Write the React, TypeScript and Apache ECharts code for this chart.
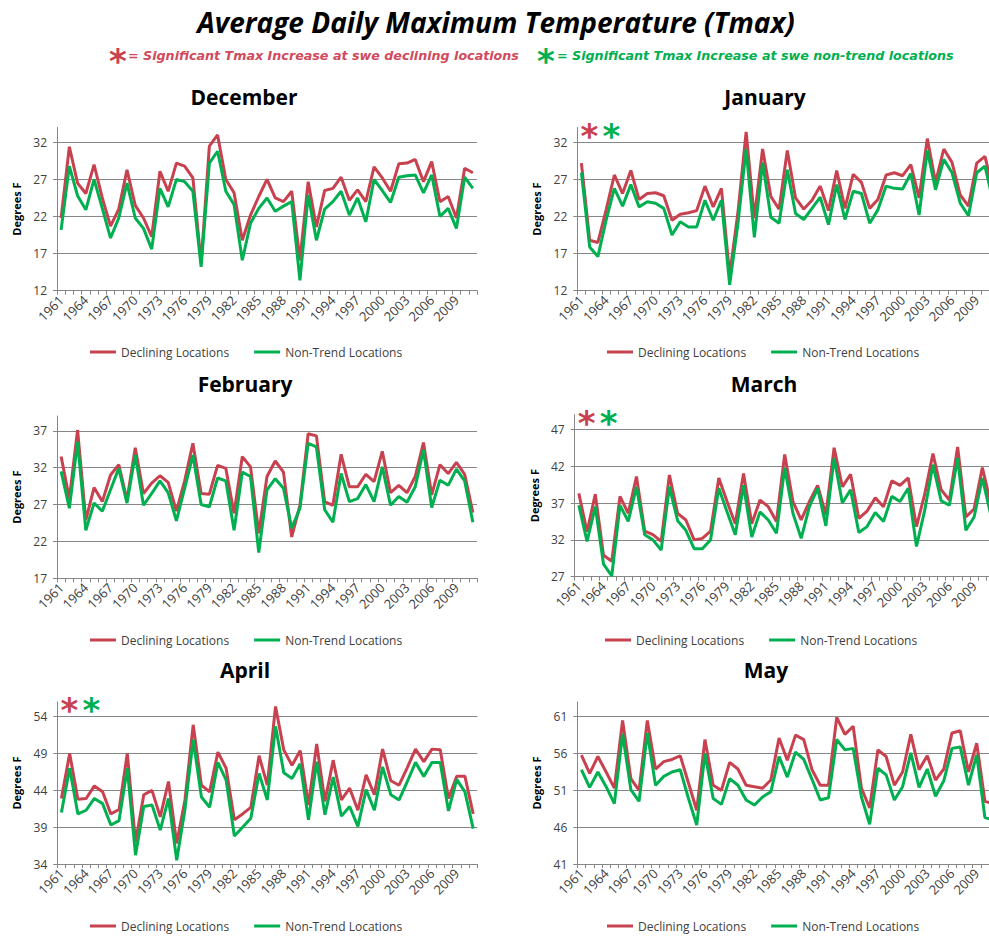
import React, { useEffect, useRef } from 'react';
import * as echarts from 'echarts';

const years = ['1961','1962','1963','1964','1965','1966','1967','1968','1969','1970','1971','1972','1973','1974','1975','1976','1977','1978','1979','1980','1981','1982','1983','1984','1985','1986','1987','1988','1989','1990','1991','1992','1993','1994','1995','1996','1997','1998','1999','2000','2001','2002','2003','2004','2005','2006','2007','2008','2009','2010','2011'];

const seriesNames = ['Declining Locations', 'Non-Trend Locations'];

const decDeclining = [21.8,31.4,26.5,25.1,29.0,24.5,20.7,23.0,28.3,23.5, 21.8,19.3,28.1,25.4,29.2,28.8,27.2,15.7,31.5,33.0, 27.0,25.2,18.8,22.2,24.7,27.0,24.5,24.0,25.4,16.1, 26.7,20.6,25.5,25.8,27.3,24.2,25.6,24.0,28.7,27.2, 25.4,29.1,29.2,29.7,26.7,29.4,24.0,24.7,21.8,28.5,27.9];
const decNonTrend = [20.2,28.8,24.8,22.9,27.0,23.1,19.1,21.8,26.5,21.8, 20.4,17.6,25.8,23.3,27.0,26.7,25.4,15.2,29.2,30.8, 25.4,23.6,16.1,21.1,23.1,24.5,22.7,23.4,24.0,13.4, 24.9,18.8,23.0,24.0,25.4,22.2,24.5,21.3,27.0,25.5, 23.9,27.3,27.5,27.6,25.2,27.6,22.0,23.1,20.4,27.3,25.8];

const janDeclining = [29.2,18.8,18.5,22.9,27.6,25.1,28.2,24.3,25.1,25.2, 24.8,21.5,22.3,22.5,22.8,26.1,23.3,25.8,14.1,22.5, 33.4,21.8,31.1,24.7,23.0,30.9,24.5,23.0,24.2,26.1, 22.8,28.2,23.1,27.7,26.6,23.1,24.3,27.6,27.9,27.5, 29.0,24.5,32.5,26.6,31.1,29.3,24.9,23.4,29.2,30.1,25.5];
const janNonTrend = [27.9,17.9,16.6,21.5,25.8,23.4,26.3,23.3,24.0,23.8, 23.1,19.5,21.3,20.6,20.6,24.2,21.5,24.2,12.8,21.0, 31.1,19.2,29.3,21.9,21.1,28.3,22.4,21.6,23.1,24.6, 20.9,26.3,21.6,25.4,25.1,21.1,22.9,26.1,25.8,25.7, 27.8,22.2,30.9,25.6,29.7,27.9,23.8,22.1,27.9,28.8,24.0];

const febDeclining = [33.5,27.8,37.1,24.9,29.3,27.4,31.0,32.4,27.6,34.7, 28.5,29.9,30.9,30.0,26.1,30.2,35.3,28.5,28.4,32.3, 31.9,25.8,33.5,32.1,23.1,30.8,32.9,31.4,22.6,26.9, 36.6,36.3,27.4,26.9,33.8,29.4,29.4,31.1,30.1,34.2, 28.6,29.6,28.6,30.8,35.4,28.3,32.4,31.2,32.7,31.1,25.9];
const febNonTrend = [31.5,26.5,35.5,23.5,27.2,26.1,29.0,31.9,27.2,33.7, 26.9,28.5,30.2,28.6,24.8,29.2,33.7,27.0,26.7,30.6, 30.2,23.5,31.4,30.8,20.5,29.0,30.5,29.2,23.8,26.5, 35.3,34.8,26.3,24.6,31.2,27.4,27.8,29.7,27.4,32.1, 26.9,28.1,27.3,29.4,34.4,26.6,30.3,29.6,31.8,30.2,24.6];

const marDeclining = [38.3,33.1,38.2,29.9,29.1,37.9,35.6,40.6,33.2,32.7, 31.8,40.8,35.6,34.7,32.0,32.2,33.2,40.4,37.2,34.2, 41.0,34.2,37.4,36.5,34.5,43.6,37.2,34.7,37.2,39.4, 35.4,44.5,39.2,40.9,34.9,35.9,37.7,36.5,40.0,39.4, 40.4,33.8,38.2,43.7,38.8,37.4,44.6,35.1,36.2,41.8,37.0];
const marNonTrend = [36.7,31.8,36.5,28.7,27.1,36.7,34.5,39.2,32.7,32.0, 30.6,39.2,34.6,33.3,30.8,30.8,32.0,39.0,35.8,32.7, 39.4,32.4,35.8,34.7,32.9,41.8,35.6,32.2,36.5,39.0, 33.9,43.1,37.0,38.8,33.0,33.8,35.7,34.5,37.9,37.2, 39.0,31.1,36.0,42.2,37.3,36.7,43.1,33.3,35.1,40.4,35.5];

const aprDeclining = [42.9,49.0,42.8,42.9,44.6,43.8,40.8,41.4,49.0,37.0, 43.4,44.0,40.4,45.2,36.8,42.7,52.9,44.7,43.8,49.2, 47.0,40.0,40.8,41.7,48.7,44.7,55.4,49.5,47.4,49.4, 42.0,50.3,42.5,48.1,42.7,44.3,41.3,46.1,43.4,49.6, 45.3,44.7,47.1,49.6,47.9,49.6,49.5,42.9,45.9,45.9,40.8];
const aprNonTrend = [41.0,47.0,40.8,41.3,42.9,42.2,39.3,39.9,47.0,35.2, 41.8,42.0,38.6,42.9,34.5,41.4,50.9,43.1,41.7,47.8, 45.4,37.8,39.0,40.2,46.3,42.7,52.7,46.4,45.6,47.6, 40.0,47.9,40.7,45.8,40.5,41.8,39.1,44.1,41.3,47.2, 43.4,42.7,45.2,47.8,45.9,47.8,47.8,41.2,45.5,43.8,38.8];

const mayDeclining = [55.8,53.3,55.6,53.5,51.3,60.5,52.6,51.0,60.5,53.9, 54.9,55.2,55.7,52.0,48.3,57.9,51.7,51.0,54.8,53.9, 51.7,51.5,51.3,52.4,58.1,55.1,58.5,57.9,53.8,51.7, 51.7,60.9,58.6,59.7,51.3,48.6,56.5,55.6,51.7,53.5, 58.6,53.8,55.7,52.4,53.9,58.8,59.1,53.5,57.4,49.5,49.2];
const mayNonTrend = [53.8,51.4,53.5,51.5,49.2,58.7,51.1,49.5,58.8,51.7, 52.9,53.5,53.8,49.9,46.3,56.0,49.9,49.1,52.6,51.7, 49.7,49.0,50.1,50.8,55.6,52.8,56.2,55.2,52.5,49.7, 50.0,57.9,56.5,56.7,50.1,46.4,54.0,53.1,49.7,51.5, 56.1,51.4,53.9,50.2,52.3,56.7,56.9,51.7,55.8,47.3,47.0];

const monthNames = ['December', 'January', 'February', 'March', 'April', 'May'];
const decliningSets = [decDeclining, janDeclining, febDeclining, marDeclining, aprDeclining, mayDeclining];
const nonTrendSets = [decNonTrend, janNonTrend, febNonTrend, marNonTrend, aprNonTrend, mayNonTrend];
const yMins = [12, 12, 17, 27, 34, 41];
const yTickLabels = [
  [12, 17, 22, 27, 32],
  [12, 17, 22, 27, 32],
  [17, 22, 27, 32, 37],
  [27, 32, 37, 42, 47],
  [34, 39, 44, 49, 54],
  [41, 46, 51, 56, 61],
];
const significant = [false, true, false, true, true, false];

const mainTitle = 'Average Daily Maximum Temperature (Tmax)';
const noteDeclining = '= Significant Tmax Increase at swe declining locations';
const noteNonTrend = '= Significant Tmax Increase at swe non-trend locations';

// layout (pixels)
const layout = [
  { left: 57, top: 127.5, height: 163.2, titleX: 244, titleY: 97, legendX: 90, legendY: 346 },
  { left: 577.3, top: 127.5, height: 163.2, titleX: 765, titleY: 97, legendX: 607, legendY: 346 },
  { left: 57, top: 416, height: 162.3, titleX: 245, titleY: 384, legendX: 90, legendY: 634 },
  { left: 574.7, top: 414.6, height: 162.1, titleX: 764, titleY: 384, legendX: 605, legendY: 634 },
  { left: 57.3, top: 702, height: 162, titleX: 245, titleY: 670, legendX: 90, legendY: 920 },
  { left: 577.3, top: 702, height: 162, titleX: 766, titleY: 670, legendX: 607, legendY: 920 },
];
const PLOT_W = 420;
const RED = '#C8414F';
const GREEN = '#00B050';
const AXIS = '#868686';
const FONT = "'Open Sans', 'Noto Sans', sans-serif";
const NOTE_FONT = "'DejaVu Sans', Verdana, sans-serif";

export default function App() {
  const ref = useRef<HTMLDivElement>(null);
  useEffect(() => {
    if (!ref.current) return;
    const chart = echarts.init(ref.current, undefined, { renderer: 'svg' });
    const grids: any[] = [];
    const xAxes: any[] = [];
    const yAxes: any[] = [];
    const series: any[] = [];
    const legends: any[] = [];
    const graphics: any[] = [];

    monthNames.forEach((m, k) => {
      const L = layout[k];
      grids.push({ left: L.left, top: L.top, width: PLOT_W, height: L.height, containLabel: false, outerBoundsMode: 'none' });
      xAxes.push({
        type: 'category', gridIndex: k, data: years, boundaryGap: true,
        axisLine: { show: true, lineStyle: { color: AXIS, width: 1 } },
        axisTick: { show: true, interval: 0, length: 4, lineStyle: { color: AXIS } },
        axisLabel: { interval: 2, rotate: 45, fontSize: 13, color: '#404040', fontFamily: FONT, margin: 7 },
        splitLine: { show: false },
      });
      yAxes.push({
        type: 'value', gridIndex: k, min: yMins[k], max: yMins[k] + 22, interval: 5,
        name: 'Degrees F', nameLocation: 'middle', nameGap: 35,
        nameTextStyle: { fontWeight: 'bold', fontSize: 11, color: '#000', fontFamily: FONT },
        axisLine: { show: true, lineStyle: { color: AXIS, width: 1 } },
        axisTick: { show: true, length: 4, lineStyle: { color: AXIS }, customValues: yTickLabels[k] },
        axisLabel: { fontSize: 12, color: '#404040', fontFamily: FONT, margin: 10, customValues: yTickLabels[k] },
        splitLine: { show: true, lineStyle: { color: AXIS, width: 1 } },
      });
      series.push({
        type: 'line', name: seriesNames[0], xAxisIndex: k, yAxisIndex: k, data: decliningSets[k],
        symbol: 'none', lineStyle: { width: 3, color: RED }, itemStyle: { color: RED },
      });
      series.push({
        type: 'line', name: seriesNames[1], xAxisIndex: k, yAxisIndex: k, data: nonTrendSets[k],
        symbol: 'none', lineStyle: { width: 3, color: GREEN }, itemStyle: { color: GREEN },
      });
      legends.push({
        left: L.legendX, top: L.legendY, padding: 0, orient: 'horizontal', icon: 'rect', itemWidth: 26, itemHeight: 3,
        itemGap: 25, selectedMode: false, data: seriesNames,
        textStyle: { fontSize: 12, color: '#404040', fontFamily: FONT },
      });
      graphics.push({
        type: 'text', x: L.titleX, y: L.titleY,
        style: { text: m, font: `bold 21px ${FONT}`, fill: '#000', align: 'center', verticalAlign: 'middle' },
      });
      if (significant[k]) {
        const ax = L.left + 12;
        const ay = L.top + 8;
        graphics.push({ type: 'text', x: ax, y: ay, style: { text: '*', font: `bold 34px 'DejaVu Sans'`, fill: RED, align: 'center', verticalAlign: 'middle' } });
        graphics.push({ type: 'text', x: ax + 22, y: ay, style: { text: '*', font: `bold 34px 'DejaVu Sans'`, fill: GREEN, align: 'center', verticalAlign: 'middle' } });
      }
    });

    graphics.push({
      type: 'text', x: 496, y: 22,
      style: { text: mainTitle, font: `italic bold 28px ${FONT}`, fill: '#000', align: 'center', verticalAlign: 'middle' },
    });
    graphics.push({ type: 'text', x: 118, y: 61, style: { text: '*', font: `bold 34px 'DejaVu Sans'`, fill: RED, align: 'center', verticalAlign: 'middle' } });
    graphics.push({ type: 'text', x: 128, y: 55, style: { text: noteDeclining, font: `italic bold 12.7px ${NOTE_FONT}`, fill: '#D04A5C', align: 'left', verticalAlign: 'middle' } });
    graphics.push({ type: 'text', x: 546, y: 61, style: { text: '*', font: `bold 34px 'DejaVu Sans'`, fill: GREEN, align: 'center', verticalAlign: 'middle' } });
    graphics.push({ type: 'text', x: 557, y: 55, style: { text: noteNonTrend, font: `italic bold 12.7px ${NOTE_FONT}`, fill: GREEN, align: 'left', verticalAlign: 'middle' } });

    chart.setOption({
      animation: false,
      backgroundColor: '#ffffff',
      textStyle: { fontFamily: FONT },
      grid: grids,
      xAxis: xAxes,
      yAxis: yAxes,
      series,
      legend: legends,
      graphic: graphics,
    });
    return () => chart.dispose();
  }, []);
  return <div ref={ref} style={{ position: 'absolute', left: 0, top: 0, width: 989, height: 936, background: '#fff' }} />;
}
